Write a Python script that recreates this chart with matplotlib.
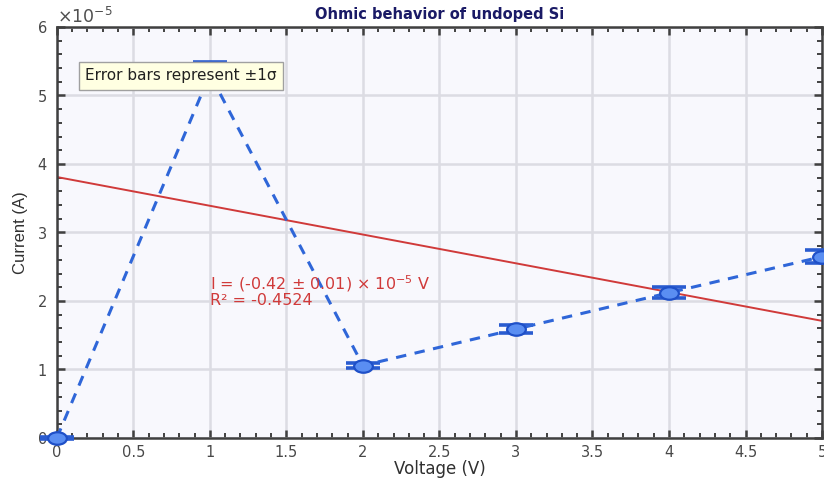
import matplotlib
matplotlib.use("Agg")
import matplotlib.pyplot as plt
import numpy as np
from matplotlib.ticker import MultipleLocator, ScalarFormatter, FuncFormatter
from matplotlib.path import Path

plt.rcParams['font.family'] = ['DejaVu Sans']
plt.rcParams['mathtext.fontset'] = 'dejavusans'

voltage = [0, 1, 2, 3, 4, 5]
current = [0.0, 5.31e-5, 1.058e-5, 1.59e-5, 2.12e-5, 2.647e-5]
current_err = [0.01e-5, 0.185e-5, 0.04e-5, 0.06e-5, 0.08e-5, 0.097e-5]
fit_slope = -0.42e-5
fit_intercept = 3.81e-5

# elliptical marker (the reference is horizontally stretched)
circ = Path.unit_circle()
ellipse = Path(circ.vertices * np.array([1.5, 1.0]), circ.codes)

fig = plt.figure(figsize=(8.24, 4.82), dpi=100)
ax = fig.add_axes([0.069, 0.0913, 0.9286, 0.8527])
ax.set_facecolor('#f8f8fd')

xs = np.array([0, 5])
ax.plot(xs, fit_intercept + fit_slope * xs, color='#d03a3a', lw=1.4, zorder=2)

eb = ax.errorbar(voltage, current, yerr=current_err, fmt='none',
                 ecolor='#2a5cd0', elinewidth=2, capsize=12, capthick=2.6, zorder=3)
for art in eb.lines[1]:
    art.set_clip_on(False)
ax.plot(voltage, current, ls=(0, (3.4, 2.8)), color='#2f66d8', lw=2.2, zorder=3)
ax.plot(voltage, current, ls='none', marker=ellipse, ms=13.5, mfc='#5a8ef2',
        mec='#1f50c8', mew=1.6, zorder=4, clip_on=False)

ax.set_xlim(0, 5)
ax.set_ylim(0, 6e-5)
ax.xaxis.set_major_locator(MultipleLocator(0.5))
ax.xaxis.set_minor_locator(MultipleLocator(0.1))
ax.yaxis.set_major_locator(MultipleLocator(1e-5))
ax.yaxis.set_minor_locator(MultipleLocator(0.2e-5))
fmt = ScalarFormatter(useMathText=True)
fmt.set_powerlimits((-3, 3))
ax.yaxis.set_major_formatter(fmt)
ax.xaxis.set_major_formatter(FuncFormatter(lambda v, p: '%g' % v))

ax.grid(True, which='major', color='#dcdce3', lw=1.8)
ax.set_axisbelow(True)
ax.tick_params(which='both', direction='in', top=True, right=True, colors='#404040',
               labelsize=10.5, labelcolor='#484848')
ax.tick_params(axis='x', which='major', pad=5)
ax.tick_params(axis='y', which='major', pad=7)
ax.tick_params(which='major', length=6, width=1.8)
ax.tick_params(which='minor', length=3.5, width=1.4)
for s in ax.spines.values():
    s.set_color('#404040')
    s.set_linewidth(1.8)
ax.yaxis.get_offset_text().set_color('#505050')
ax.yaxis.get_offset_text().set_fontsize(12.5)

ax.set_xlabel('Voltage (V)', fontsize=12, color='#303030', labelpad=0)
ax.set_ylabel('Current (A)', fontsize=12, color='#303030', labelpad=6,
              family='Liberation Sans')
ax.set_title('Ohmic behavior of undoped Si', fontsize=10.5, fontweight='bold',
             color='#1a1a66', pad=6)

ax.text(1.0, 2.26e-5, 'I = (-0.42 ± 0.01) × 10$^{-5}$ V', color='#d03a3a', fontsize=11.5,
        va='center', ha='left')
ax.text(1.0, 2.0e-5, 'R² = -0.4524', color='#d03a3a', fontsize=11.5, va='center', ha='left')

ax.text(0.183, 5.285e-5, 'Error bars represent ±1σ', fontsize=11, color='#202020',
        va='center', ha='left', zorder=6,
        bbox=dict(boxstyle='square,pad=0.4', fc='#ffffe2', ec='#a0a0a0', lw=1))

fig.savefig('out.png', dpi=100)
